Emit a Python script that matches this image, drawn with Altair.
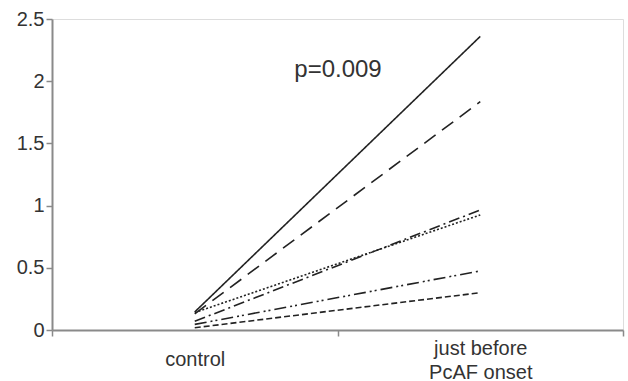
import altair as alt
import pandas as pd

categories = ["control", "just before PcAF onset"]
series = ["solid", "longdash", "dotted", "dashdot", "dashdotdot", "shortdash"]
control_vals = [0.145, 0.13, 0.14, 0.07, 0.045, 0.018]
before_vals = [2.36, 1.835, 0.925, 0.965, 0.475, 0.30]
dashes = [[1, 0], [14, 8], [2, 2], [11, 4, 2, 4], [12, 4, 2, 3, 2, 4], [6, 3]]
y_ticks = [0, 0.5, 1, 1.5, 2, 2.5]
p_text = ["p=0.009"]

rows = []
for s, c, b in zip(series, control_vals, before_vals):
    rows.append({"series": s, "stage": categories[0], "value": c})
    rows.append({"series": s, "stage": categories[1], "value": b})
df = pd.DataFrame(rows)

FONT = "Liberation Sans"
AX = "#8a8a8a"

lines = alt.Chart(df).mark_line(color="#222222", strokeWidth=1.6).encode(
    x=alt.X(
        "stage:N",
        sort=categories,
        scale=alt.Scale(paddingInner=0, paddingOuter=0),
        axis=alt.Axis(
            title=None,
            labelAngle=0,
            tickBand="extent",
            labelFont=FONT,
            labelFontSize=20,
            labelColor="#333333",
            labelPadding={"condition": {"test": "datum.value == 'control'", "value": 13}, "value": 2},
            labelBaseline="top",
            labelLineHeight=24,
            labelExpr="datum.label == 'just before PcAF onset' ? ['just before', 'PcAF onset'] : datum.label",
            domainColor=AX,
            domainWidth=2,
            tickColor=AX,
            tickWidth=1.5,
            tickSize=6,
        ),
    ),
    y=alt.Y(
        "value:Q",
        scale=alt.Scale(domain=[0, 2.5], nice=False),
        axis=alt.Axis(
            title=None,
            values=y_ticks,
            format="~g",
            grid=False,
            labelFont=FONT,
            labelFontSize=20,
            labelColor="#333333",
            labelPadding=2,
            domainColor=AX,
            domainWidth=2,
            tickColor=AX,
            tickWidth=1.5,
            tickSize=6,
        ),
    ),
    detail="series:N",
    strokeDash=alt.StrokeDash(
        "series:N",
        scale=alt.Scale(domain=series, range=dashes),
        legend=None,
    ),
)

label = alt.Chart(pd.DataFrame({"t": p_text})).mark_text(
    font=FONT, fontSize=24, color="#333333", align="center", baseline="alphabetic"
).encode(
    text="t:N",
    x=alt.value(286),
    y=alt.value(58),
)

chart = alt.layer(lines, label).properties(
    width=571,
    height=311,
    autosize=alt.AutoSizeParams(type="none"),
    padding={"left": 52, "top": 19, "right": 5, "bottom": 51},
).configure_view(stroke=None).configure(background="white")

chart.save("out.html", embed_options={"renderer": "svg", "actions": False})
